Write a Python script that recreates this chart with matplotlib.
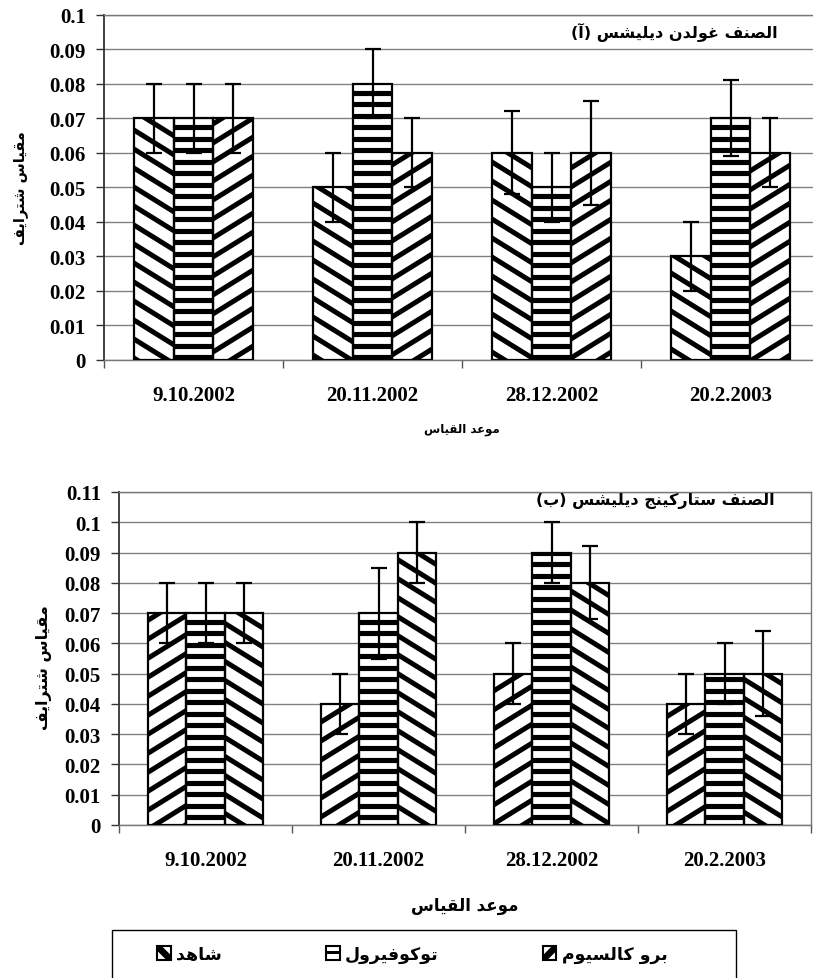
import matplotlib
matplotlib.use("Agg")
import numpy as np
import matplotlib.pyplot as plt
from matplotlib.collections import LineCollection
from matplotlib.transforms import IdentityTransform
from matplotlib.patches import Rectangle, Polygon
from matplotlib.legend_handler import HandlerBase

# ---------------- data ----------------
dates = ["9.10.2002", "20.11.2002", "28.12.2002", "20.2.2003"]
series_names = ["شاهد", "توكوفيرول", "برو كالسيوم"]

# chart (a)
top_title = "الصنف غولدن ديليشس (آ)"
top_control = [0.07, 0.05, 0.06, 0.03]
top_control_err = [0.01, 0.01, 0.012, 0.01]
top_toco = [0.07, 0.08, 0.05, 0.07]
top_toco_err = [0.01, 0.01, 0.01, 0.011]
top_procal = [0.07, 0.06, 0.06, 0.06]
top_procal_err = [0.01, 0.01, 0.015, 0.01]
top_yticks = [0, 0.01, 0.02, 0.03, 0.04, 0.05, 0.06, 0.07, 0.08, 0.09, 0.1]
top_ylabels = ["0", "0.01", "0.02", "0.03", "0.04", "0.05", "0.06", "0.07", "0.08", "0.09", "0.1"]

# chart (b)
bot_title = "الصنف ستاركينج ديليشس (ب)"
bot_control = [0.07, 0.04, 0.05, 0.04]
bot_control_err = [0.01, 0.01, 0.01, 0.01]
bot_toco = [0.07, 0.07, 0.09, 0.05]
bot_toco_err = [0.01, 0.015, 0.01, 0.01]
bot_procal = [0.07, 0.09, 0.08, 0.05]
bot_procal_err = [0.01, 0.01, 0.012, 0.014]
bot_yticks = [0, 0.01, 0.02, 0.03, 0.04, 0.05, 0.06, 0.07, 0.08, 0.09, 0.1, 0.11]
bot_ylabels = ["0", "0.01", "0.02", "0.03", "0.04", "0.05", "0.06", "0.07", "0.08", "0.09", "0.1", "0.11"]

ylabel_text = "مقياس شترايف"
xlabel_text = "موعد القياس"

# ---------------- arabic shaping (presentation forms + visual order) ----------------
FORMS = {
    "ا": ("\uFE8D", "\uFE8E"), "آ": ("\uFE81", "\uFE82"),
    "ب": ("\uFE8F", "\uFE90", "\uFE91", "\uFE92"),
    "ت": ("\uFE95", "\uFE96", "\uFE97", "\uFE98"),
    "ج": ("\uFE9D", "\uFE9E", "\uFE9F", "\uFEA0"),
    "د": ("\uFEA9", "\uFEAA"), "ر": ("\uFEAD", "\uFEAE"),
    "س": ("\uFEB1", "\uFEB2", "\uFEB3", "\uFEB4"),
    "ش": ("\uFEB5", "\uFEB6", "\uFEB7", "\uFEB8"),
    "ص": ("\uFEB9", "\uFEBA", "\uFEBB", "\uFEBC"),
    "ع": ("\uFEC9", "\uFECA", "\uFECB", "\uFECC"),
    "غ": ("\uFECD", "\uFECE", "\uFECF", "\uFED0"),
    "ف": ("\uFED1", "\uFED2", "\uFED3", "\uFED4"),
    "ق": ("\uFED5", "\uFED6", "\uFED7", "\uFED8"),
    "ك": ("\uFED9", "\uFEDA", "\uFEDB", "\uFEDC"),
    "ل": ("\uFEDD", "\uFEDE", "\uFEDF", "\uFEE0"),
    "م": ("\uFEE1", "\uFEE2", "\uFEE3", "\uFEE4"),
    "ن": ("\uFEE5", "\uFEE6", "\uFEE7", "\uFEE8"),
    "ه": ("\uFEE9", "\uFEEA", "\uFEEB", "\uFEEC"),
    "و": ("\uFEED", "\uFEEE"),
    "ي": ("\uFEF1", "\uFEF2", "\uFEF3", "\uFEF4"),
}


def ar(text):
    out = []
    n = len(text)
    for i, c in enumerate(text):
        if c not in FORMS:
            out.append(c)
            continue
        f = FORMS[c]
        prev = text[i - 1] if i > 0 else None
        nxt = text[i + 1] if i + 1 < n else None
        jp = prev in FORMS and len(FORMS[prev]) == 4
        jn = len(f) == 4 and nxt in FORMS
        if jp and jn:
            out.append(f[3])
        elif jp:
            out.append(f[1])
        elif jn:
            out.append(f[2])
        else:
            out.append(f[0])
    s = "".join(out)[::-1]
    return s.translate(str.maketrans("()", ")("))


AR_FONT = dict(family=["DejaVu Sans"], weight="bold")
NUM_FONT = dict(family=["Liberation Serif", "DejaVu Serif"], weight="bold")

# ---------------- figure ----------------
W, H = 813, 979
fig = plt.figure(figsize=(W / 100, H / 100), dpi=100)
fig.patch.set_facecolor("white")


def px_axes(l, t, r, b):
    return [l / W, 1 - b / H, (r - l) / W, (b - t) / H]


ax_top = fig.add_axes(px_axes(104, 15.7, 820, 361))
ax_bot = fig.add_axes(px_axes(119, 493, 811, 826))

BAR_W = 0.222
offsets = [-BAR_W, 0.0, BAR_W]
GRID_C = "#808080"


def add_hatch(ax, bars, kind, period, slope, lw):
    for bar in bars:
        bb = bar.get_window_extent()
        x0, y0, x1, y1 = bb.x0, bb.y0, bb.x1, bb.y1
        segs = []
        if kind == "h":
            for k in range(int(np.floor(y0 / period)), int(np.ceil(y1 / period)) + 1):
                y = k * period
                segs.append([(x0 - 3, y), (x1 + 3, y)])
        elif kind == "down":
            cmin, cmax = y0 + slope * x0, y1 + slope * x1
            for k in range(int(np.floor(cmin / period)) - 1, int(np.ceil(cmax / period)) + 2):
                c = k * period
                segs.append([(x0 - 6, c - slope * (x0 - 6)), (x1 + 6, c - slope * (x1 + 6))])
        else:
            cmin, cmax = y0 - slope * x1, y1 - slope * x0
            for k in range(int(np.floor(cmin / period)) - 1, int(np.ceil(cmax / period)) + 2):
                c = k * period
                segs.append([(x0 - 6, c + slope * (x0 - 6)), (x1 + 6, c + slope * (x1 + 6))])
        lc = LineCollection(segs, colors="black", linewidths=lw,
                            transform=IdentityTransform(), zorder=2.5, capstyle="butt")
        ax.add_collection(lc, autolim=False)
        lc.set_clip_path(bar)


def draw_chart(ax, series, errs, kinds, yticks, ylabels, title, ylab_xy, ylab_size,
               xlab_xy, xlab_size, title_xy, title_size):
    x = np.arange(len(dates))
    ax.set_xlim(-0.5, len(dates) - 0.5)
    ax.set_ylim(yticks[0], yticks[-1])
    ax.set_axisbelow(True)
    ax.yaxis.grid(True, color=GRID_C, linewidth=1.0)
    ax.set_yticks(yticks)
    ax.set_yticklabels(ylabels, fontsize=15, **NUM_FONT)
    ax.set_xticks(x)
    ax.set_xticklabels(dates, fontsize=15, **NUM_FONT)
    ax.set_xticks(np.arange(len(dates) + 1) - 0.5, minor=True)
    ax.tick_params(axis="x", which="major", length=0, pad=18)
    ax.tick_params(axis="x", which="minor", length=6, direction="out", color="#555555", width=1)
    ax.tick_params(axis="y", length=6, direction="out", color="#333333", width=1, pad=7)
    for side in ["left", "bottom", "top", "right"]:
        ax.spines[side].set_color("#777777")
        ax.spines[side].set_linewidth(1.0)
    ax.spines["left"].set_color("#333333")
    ax.spines["left"].set_linewidth(1.3)

    for vals, err, off, kind in zip(series, errs, offsets, kinds):
        bars = ax.bar(x + off, vals, width=BAR_W, color="white", edgecolor="none", zorder=2)
        if kind == "h":
            add_hatch(ax, bars, "h", 11.5, 0.0, 3.7)
        else:
            add_hatch(ax, bars, kind, 19.0, 0.62, 3.6)
        ax.bar(x + off, vals, width=BAR_W, fill=False, edgecolor="black", linewidth=1.6, zorder=3)
        ax.errorbar(x + off, vals, yerr=err, fmt="none", ecolor="black", elinewidth=1.6,
                    capsize=5.5, capthick=1.6, zorder=4)

    ax.set_ylabel(ar(ylabel_text), fontsize=ylab_size, **AR_FONT)
    ax.yaxis.set_label_coords(*ylab_xy)
    ax.set_xlabel(ar(xlabel_text), fontsize=xlab_size, **AR_FONT)
    ax.xaxis.set_label_coords(*xlab_xy)
    fig.text(title_xy[0] / W, 1 - title_xy[1] / H, ar(title), ha="right", va="center",
             fontsize=title_size, **AR_FONT)


draw_chart(ax_top, [top_control, top_toco, top_procal],
           [top_control_err, top_toco_err, top_procal_err],
           ["down", "h", "up"], top_yticks, top_ylabels, top_title,
           (-0.106, 0.5), 10.5, (0.5, -0.18), 8.5, (778, 32), 11.5)

draw_chart(ax_bot, [bot_control, bot_toco, bot_procal],
           [bot_control_err, bot_toco_err, bot_procal_err],
           ["up", "h", "down"], bot_yticks, bot_ylabels, bot_title,
           (-0.097, 0.477), 11.5, (0.5, -0.213), 12, (775, 501), 11.5)


# ---------------- legend ----------------
class HatchHandle(HandlerBase):
    def __init__(self, kind):
        super().__init__()
        self.kind = kind

    def create_artists(self, legend, orig_handle, xdescent, ydescent, width, height,
                       fontsize, trans):
        s = height
        x0 = -xdescent + (width - s) / 2
        y0 = -ydescent
        arts = [Rectangle((x0, y0), s, s, facecolor="white", edgecolor="black",
                          lw=1.5, transform=trans)]
        if self.kind == "down":
            pts = [(x0, y0 + s), (x0 + 0.35 * s, y0 + s), (x0 + s, y0 + 0.35 * s),
                   (x0 + s, y0), (x0 + 0.65 * s, y0), (x0, y0 + 0.65 * s)]
            arts.append(Polygon(pts, closed=True, facecolor="black", edgecolor="none",
                                transform=trans))
        elif self.kind == "up":
            pts = [(x0, y0), (x0 + 0.35 * s, y0), (x0 + s, y0 + 0.65 * s),
                   (x0 + s, y0 + s), (x0 + 0.65 * s, y0 + s), (x0, y0 + 0.35 * s)]
            arts.append(Polygon(pts, closed=True, facecolor="black", edgecolor="none",
                                transform=trans))
        else:
            arts.append(Rectangle((x0, y0 + 0.38 * s), s, 0.24 * s, facecolor="black",
                                  edgecolor="none", transform=trans))
        return arts


handles = [Rectangle((0, 0), 1, 1) for _ in series_names]
hmap = {handles[0]: HatchHandle("down"), handles[1]: HatchHandle("h"),
        handles[2]: HatchHandle("up")}
fig.legend(handles, [ar(s) for s in series_names], handler_map=hmap,
           loc="center left", bbox_to_anchor=(157 / W, 1 - 955 / H), ncol=3,
           frameon=False, borderpad=0, borderaxespad=0, handlelength=0.8,
           handleheight=0.8, handletextpad=0.3, columnspacing=6.0,
           prop=dict(family="DejaVu Sans", weight="bold", size=12.5))

fig.add_artist(Rectangle((112 / W, -0.05), (736 - 112) / W, 0.05 + 1 - 931 / H,
                         transform=fig.transFigure, fill=False, edgecolor="black",
                         linewidth=1.0))

fig.savefig("out.png", dpi=100)
